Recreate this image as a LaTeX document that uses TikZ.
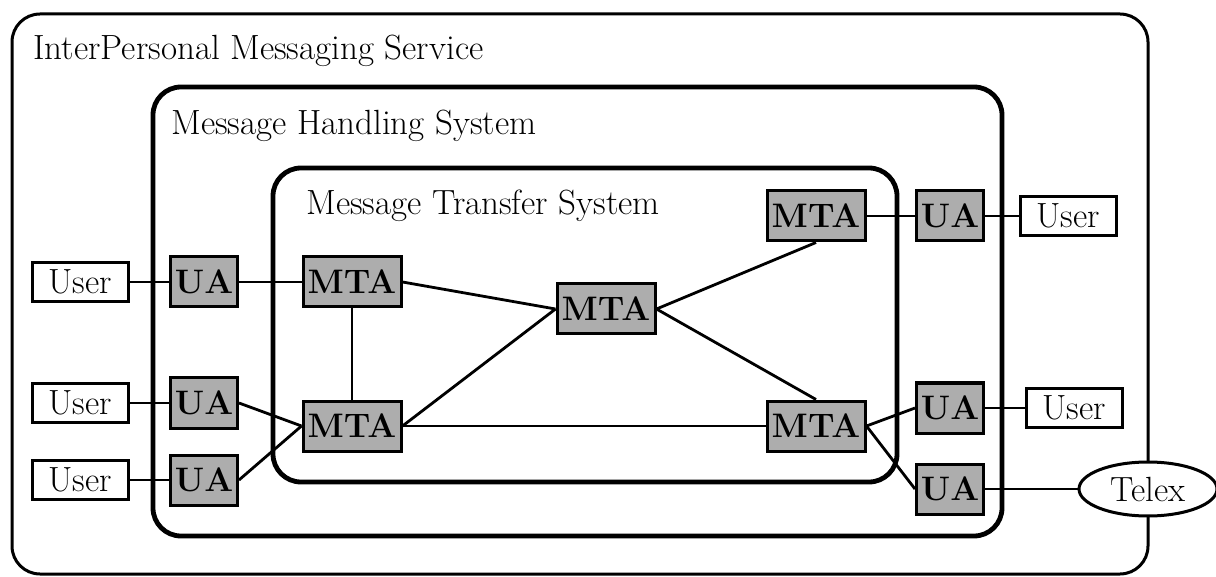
\documentclass[tikz,border=0pt]{standalone}
\usepackage{tikz}
\usetikzlibrary{positioning, shapes.geometric}

\tikzset{
  agent/.style={draw, line width=1.5pt, fill=black!32, inner sep=0pt,
    minimum height=25pt, font=\fontsize{17}{19}\selectfont\bfseries},
  mta/.style={agent, minimum width=49pt},
  ua/.style={agent, minimum width=33.5pt},
  user/.style={draw, line width=1.5pt, fill=white, inner sep=0pt,
    minimum width=48pt, minimum height=19.5pt},
  telex/.style={ellipse, draw, line width=1.5pt, fill=white, inner sep=0pt,
    minimum width=69pt, minimum height=27pt},
  frame/.style={rounded corners=14pt},
  frametitle/.style={anchor=base west, inner sep=0pt}
}

\begin{document}
\begin{tikzpicture}[x=0.5pt,y=-0.5pt,on grid,line width=1.4pt,
    font=\fontsize{17.5}{20}\selectfont]

   \useasboundingbox (0,0) rectangle (1216,577);

   % the three services
   \draw[frame,line width=1.5pt] (12,14) rectangle (1148,574);
   \draw[frame,line width=2.4pt] (153,87) rectangle (1002,536);
   \draw[frame,line width=2.4pt] (273,168) rectangle (897,482);
   \node[frametitle] (ipms) at (32,60)  {InterPersonal Messaging Service};
   \node[frametitle] (mhs)  at (170,135) {Message Handling System};
   \node[frametitle] (mts)  at (305,215) {Message Transfer System};

   \node[mta] (mta_1) at (352,282) {MTA};
   \node[mta] (mta_2) [below=72pt of mta_1] {MTA};
   \node[mta] (mta_c) at (606,309) {MTA};
   \node[mta] (mta_ne) [above right=46.5pt and 105pt of mta_c] {MTA};
   \node[mta] (mta_se) [below right=58.5pt and 105pt of mta_c] {MTA};

   \node[ua] (ua_1) [left=74pt of mta_1] {UA};
   \node[ua] (ua_2) [above left=11.5pt and 74pt of mta_2] {UA};
   \node[ua] (ua_3) [below=38.5pt of ua_2] {UA};
   \node[ua] (ua_ne) [right=67pt of mta_ne] {UA};
   \node[ua] (ua_se) [above right=9pt and 67pt of mta_se] {UA};
   \node[ua] (ua_tx) [below=40.5pt of ua_se] {UA};

   \node[user] (user_1) [left=62pt of ua_1] {User};
   \node[user] (user_2) [left=62pt of ua_2] {User};
   \node[user] (user_3) [left=62pt of ua_3] {User};
   \node[user] (user_ne) [right=59pt of ua_ne] {User};
   \node[user] (user_se) [right=62pt of ua_se] {User};
   \node[telex] (telex) [right=99pt of ua_tx] {Telex};

   \draw (user_1) -- (ua_1) -- (mta_1) -- (mta_2) -- (mta_se);
   \draw (user_2) -- (ua_2);
   \draw (user_3) -- (ua_3);
   \draw (ua_2.east) -- (mta_2.west);
   \draw (ua_3.east) -- (mta_2.west);
   \draw (mta_1.east) -- (mta_c.west);
   \draw (mta_2.east) -- (mta_c.west);
   \draw (mta_c.east) -- (mta_ne.south);
   \draw (mta_c.east) -- (mta_se.north);
   \draw (mta_ne) -- (ua_ne) -- (user_ne);
   \draw (mta_se.east) -- (ua_se.west);
   \draw (mta_se.east) -- (ua_tx.west);
   \draw (ua_se) -- (user_se);
   \draw (ua_tx) -- (telex);

\end{tikzpicture}
\end{document}
